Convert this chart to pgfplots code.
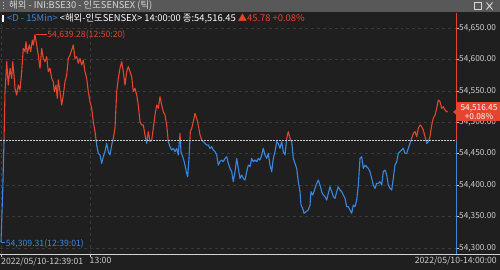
\documentclass[border=0pt]{standalone}
\usepackage{pgfplots}
\usepackage{pgfplotstable}
\pgfplotsset{compat=1.18}
\usepackage{fontspec}
\setmainfont{Noto Sans CJK KR}
\pgfdeclarelayer{background}
\pgfsetlayers{background,main}
\definecolor{bgc}{HTML}{1F1F1F}
\definecolor{barc}{HTML}{585858}
\definecolor{gridc}{HTML}{3A3A3A}
\definecolor{redc}{HTML}{E5452F}
\definecolor{bluec}{HTML}{3B87E0}
\definecolor{txtc}{HTML}{CDCDCD}
\pgfplotstableread{
x y
1.0 54309.31
2.7 54389.6
4.0 54469.2
5.0 54548.7
6.0 54575.2
6.7 54596.4
8.3 54559.3
10.0 54585.8
11.7 54569.9
12.7 54596.4
14.0 54575.2
15.0 54554.0
16.7 54543.4
18.3 54559.3
20.0 54551.4
21.7 54580.5
23.3 54617.6
25.0 54612.3
26.0 54628.3
27.3 54609.7
29.3 54623.0
30.7 54612.3
32.3 54630.9
33.3 54623.0
35.0 54639.28
36.7 54623.0
38.3 54607.0
40.0 54585.8
41.7 54617.6
43.3 54601.7
45.0 54596.4
46.7 54604.4
48.3 54580.5
50.0 54585.8
51.7 54569.9
53.3 54564.6
54.3 54548.7
56.0 54559.3
57.3 54538.1
58.3 54567.3
60.0 54548.7
61.7 54527.5
63.3 54543.4
65.0 54564.6
66.7 54575.2
68.3 54601.7
70.0 54607.0
71.7 54615.0
73.3 54623.0
75.0 54601.7
76.7 54604.4
78.3 54593.8
80.0 54601.7
81.7 54591.1
83.3 54599.1
85.0 54580.5
86.7 54569.9
88.3 54548.7
90.0 54532.8
91.7 54522.2
93.3 54501.0
95.0 54485.1
96.7 54463.9
98.3 54450.6
100.0 54448.0
101.7 54434.7
103.3 54445.3
105.0 54453.3
106.7 54466.5
108.3 54453.3
110.0 54448.0
111.7 54463.9
113.3 54474.5
115.0 54490.4
116.7 54548.7
118.3 54569.9
120.0 54585.8
121.7 54596.4
123.3 54580.5
125.0 54559.3
126.7 54580.5
128.3 54588.5
130.0 54580.5
131.7 54572.6
133.3 54548.7
135.0 54554.0
136.7 54543.4
138.3 54527.5
140.0 54501.0
141.7 54495.7
143.3 54495.7
145.0 54479.8
146.7 54466.5
148.3 54485.1
150.0 54469.2
151.7 54471.8
153.3 54490.4
155.0 54511.6
156.7 54527.5
158.3 54522.2
160.0 54540.7
161.7 54527.5
163.3 54516.9
165.0 54511.6
166.7 54495.7
168.3 54469.2
170.0 54461.2
171.7 54455.9
173.3 54458.6
175.0 54453.3
176.7 54458.6
178.3 54448.0
180.0 54482.4
181.0 54453.3
183.3 54442.6
185.0 54432.0
186.7 54418.8
187.7 54413.5
189.0 54442.6
190.3 54485.1
191.7 54490.4
193.3 54501.0
195.0 54514.2
196.7 54506.3
198.3 54495.7
200.0 54479.8
201.7 54471.8
203.3 54469.2
205.0 54466.5
206.7 54463.9
208.3 54463.9
210.0 54458.6
211.7 54461.2
213.3 54455.9
215.0 54453.3
216.7 54448.0
218.3 54432.0
220.0 54437.4
221.7 54440.0
223.3 54437.4
225.0 54442.6
226.7 54445.3
228.3 54434.7
230.0 54426.7
231.7 54421.4
233.3 54405.5
235.0 54421.4
236.7 54442.6
238.3 54426.7
240.0 54410.8
241.7 54416.1
243.3 54410.8
245.0 54408.2
246.7 54421.4
248.3 54432.0
250.0 54429.4
251.7 54442.6
253.3 54437.4
255.0 54440.0
256.7 54437.4
258.3 54442.6
260.0 54440.0
261.7 54448.0
263.3 54458.6
265.0 54448.0
266.7 54442.6
268.3 54450.6
270.0 54432.0
271.7 54421.4
273.3 54442.6
275.0 54453.3
276.7 54469.2
278.3 54466.5
280.0 54458.6
281.7 54469.2
283.3 54453.3
285.0 54448.0
286.7 54474.5
288.3 54485.1
290.0 54474.5
291.7 54469.2
293.3 54442.6
295.0 54434.7
296.7 54426.7
298.3 54405.5
300.0 54389.6
301.0 54368.4
302.7 54363.1
304.0 54355.2
306.0 54357.8
308.3 54360.5
310.0 54368.4
311.0 54389.6
312.7 54384.3
314.0 54389.6
316.0 54400.2
318.3 54408.2
320.0 54400.2
321.7 54389.6
323.3 54384.3
325.0 54381.7
326.7 54376.4
328.3 54387.0
330.0 54397.6
331.7 54389.6
333.3 54381.7
335.0 54379.0
336.7 54389.6
338.3 54397.6
340.0 54392.3
341.7 54389.6
343.3 54384.3
345.0 54379.0
346.7 54365.8
348.3 54365.8
350.0 54360.5
351.7 54355.2
353.3 54368.4
355.0 54365.8
356.7 54376.4
358.3 54400.2
360.0 54442.6
361.7 54445.3
363.3 54426.7
365.0 54432.0
366.7 54429.4
368.3 54426.7
370.0 54421.4
371.7 54410.8
373.3 54400.2
375.0 54394.9
376.7 54402.9
378.3 54402.9
380.0 54405.5
381.7 54400.2
383.3 54421.4
385.0 54424.1
386.7 54416.1
388.3 54400.2
390.0 54394.9
391.7 54392.3
393.3 54410.8
395.0 54432.0
396.7 54437.4
398.3 54450.6
400.0 54453.3
401.7 54455.9
403.3 54458.6
405.0 54450.6
406.7 54450.6
408.3 54458.6
410.0 54466.5
411.7 54474.5
413.3 54482.4
415.0 54485.1
416.7 54477.1
418.3 54490.4
420.0 54495.7
421.7 54493.1
423.3 54487.7
425.0 54477.1
426.7 54466.5
428.3 54469.2
430.0 54477.1
431.7 54495.7
433.3 54506.3
435.0 54511.6
436.7 54522.2
438.3 54535.4
440.0 54532.8
441.7 54522.2
443.3 54524.8
445.0 54519.5
446.7 54516.9
447.7 54516.45
}\pricedata
\begin{document}
\begin{tikzpicture}
\begin{axis}[
  name=main,
  width=456bp, height=241bp, scale only axis,
  xmin=0, xmax=456, ymin=54290.5, ymax=54673.9,
  axis line style={draw=none},
  clip=true,
  scaled y ticks=false,
  ytick={54300,54350,...,54650},
  ytick pos=right, yticklabel pos=right,
  xtick={1.5,90}, xticklabels={2022/05/10-12:39:01,13:00},
  xtick pos=left,
  tick align=outside, major tick length=3bp,
  tick style={txtc, line width=0.6bp},
  ymajorgrids, xmajorgrids,
  grid style={gridc, dashed, line width=0.5bp},
  yticklabel style={font=\fontsize{8.3}{9}\selectfont, text=txtc, inner sep=1bp, xshift=-1bp},
  y tick label style={/pgf/number format/fixed, /pgf/number format/fixed zerofill, /pgf/number format/precision=2, /pgf/number format/1000 sep={,}, /pgf/number format/assume math mode=true},
  xticklabel style={font=\fontsize{8.7}{9}\selectfont, text=txtc, anchor=north west, inner sep=1bp, xshift=-1.5bp, yshift=1bp},
]
\begin{scope}
\clip (axis cs:0,54470.67) rectangle (axis cs:456,54673.9);
\addplot[redc, line width=1.1bp, line join=round] table {\pricedata};
\end{scope}
\begin{scope}
\clip (axis cs:0,54290.5) rectangle (axis cs:456,54470.67);
\addplot[bluec, line width=1.1bp, line join=round] table {\pricedata};
\end{scope}
\addplot[txtc, line width=0.8bp, dash pattern=on 1.5bp off 1.5bp] coordinates {(0,54470.67) (456,54470.67)};
\coordinate (O) at (axis cs:0,54290.5);
\coordinate (maxp) at (axis cs:35.5,54639.28);
\coordinate (minp) at (axis cs:1,54309.31);
\coordinate (lastp) at (axis cs:456,54516.45);
\coordinate (refp) at (axis cs:456,54470.67);
\end{axis}
\draw[redc, line width=0.6bp] (maxp) -- ++(11bp,0bp) node[right, inner sep=0.5bp, font=\fontsize{8.7}{9}\selectfont, text=redc] {54,639.28(12:50:20)};
\draw[bluec, line width=0.6bp] (minp) -- ++(4bp,0bp) node[right, inner sep=0.5bp, font=\fontsize{8.7}{9}\selectfont, text=bluec, yshift=-2bp] {54,309.31(12:39:01)};
\begin{scope}[shift={(O)}, x=1bp, y=1bp, yshift=-16bp]
\begin{pgfonlayer}{background}
\fill[bgc] (0,0) rectangle (500,270);
\fill[barc] (0,258) rectangle (500,270);
\end{pgfonlayer}
% right axis coloured line
\draw[bluec, line width=1.4bp] (456.5,16) -- (456.5,129.26);
\draw[redc, line width=1.4bp] (456.5,257) -- (456.5,129.26);
% bottom axis line
\draw[txtc!85, line width=1bp] (0,16) -- (500,16);
\node[anchor=north east, inner sep=1bp, font=\fontsize{8.7}{9}\selectfont, text=txtc] at (498,15) {2022/05/10-14:00:00};
% title bar
\fill[txtc] (3,261) rectangle (4,262); \fill[txtc] (3,264) rectangle (4,265); \fill[txtc] (3,267) rectangle (4,268);
\node[anchor=west, inner sep=0pt, font=\fontsize{9.4}{10}\selectfont, text=white!85!black] at (9,264) {해외 - INI:BSE30 - 인도SENSEX (틱)};
\draw[white!85!black, line width=0.7bp] (474.5,260.5) rectangle (481.5,267.5);
\draw[white!85!black, line width=0.9bp] (486.5,260.5) -- (492.5,267.5) (486.5,267.5) -- (492.5,260.5);
% info line
\fill[white] (2,248) rectangle (4,255);
\node[anchor=west, inner sep=0pt, font=\fontsize{9.4}{10}\selectfont] at (7,251.5) {\textcolor{bluec}{<D - 15Min>} \textcolor{white}{<해외-인도SENSEX> 14:00:00 종:54,516.45} \textcolor{redc}{▲45.78 +0.08\%}};
\end{scope}
% price box
\fill[redc] ([xshift=1bp,yshift=-9.5bp]lastp) rectangle ([xshift=44bp,yshift=9.5bp]lastp);
\fill[redc] ([xshift=-3bp]lastp) -- ([xshift=2bp,yshift=4bp]lastp) -- ([xshift=2bp,yshift=-4bp]lastp) -- cycle;
\node[anchor=center, inner sep=0pt, align=center, font=\fontsize{8.3}{8.6}\selectfont, text=white] at ([xshift=23bp]lastp) {54,516.45\\+0.08\%};
\pgfresetboundingbox
\path[use as bounding box] ([yshift=-16bp]O) rectangle ([xshift=500bp,yshift=254bp]O);
\end{tikzpicture}
\end{document}
